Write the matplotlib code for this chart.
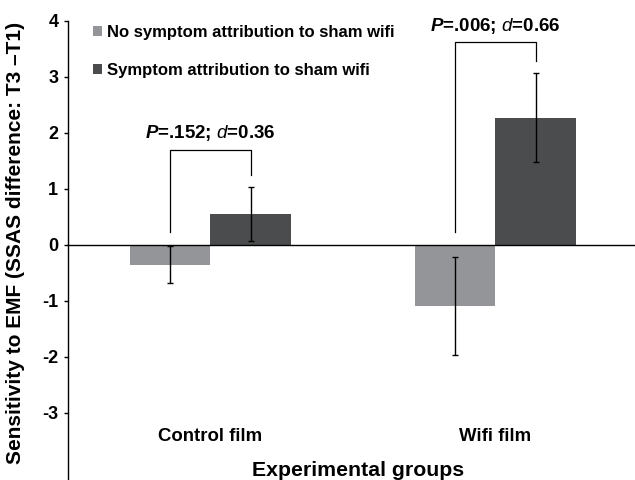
import numpy as np
import matplotlib
matplotlib.use("Agg")
import matplotlib.pyplot as plt

# data
groups = ["Control film", "Wifi film"]
series = ["No symptom attribution to sham wifi", "Symptom attribution to sham wifi"]
no_attr = [-0.36, -1.09]
no_attr_err = [0.33, 0.88]
attr = [0.55, 2.27]
attr_err = [0.48, 0.79]
stats = [("152", "0.36"), ("006", "0.66")]
bracket_top = [1.70, 3.62]

plt.rcParams["font.family"] = "Liberation Sans"
plt.rcParams["font.weight"] = "bold"
plt.rcParams["axes.unicode_minus"] = False
plt.rcParams["mathtext.fontset"] = "custom"
plt.rcParams["mathtext.it"] = "Liberation Sans:bold:italic"
plt.rcParams["mathtext.rm"] = "Liberation Sans:bold"
plt.rcParams["mathtext.sf"] = "Liberation Sans:style=italic:weight=normal"

grey = "#949598"
dark = "#4b4c4e"

fig = plt.figure(figsize=(6.35, 4.8), dpi=100)
ax = fig.add_axes([68/635, 0, 570/635, 459.2/480])

x = np.arange(len(groups)) + 0.5
w = 0.284
ax.bar(x - w/2, no_attr, w, color=grey, label=series[0],
       yerr=no_attr_err, error_kw=dict(ecolor="black", elinewidth=1, capsize=2, capthick=1))
ax.bar(x + w/2, attr, w, color=dark, label=series[1],
       yerr=attr_err, error_kw=dict(ecolor="black", elinewidth=1, capsize=2, capthick=1))

# significance brackets
for i in range(len(groups)):
    lo = max(0, no_attr[i] + no_attr_err[i]) + 0.22
    hi = attr[i] + attr_err[i] + 0.22
    top = bracket_top[i]
    ax.plot([x[i] - w/2, x[i] - w/2, x[i] + w/2, x[i] + w/2], [lo, top, top, hi],
            color="black", lw=0.9)
    p, d = stats[i]
    ax.text(x[i], top + 0.29, r"$P$=.%s; $\mathsf{d}$=%s" % (p, d),
            ha="center", va="center", fontsize=13.5, fontweight="bold")

ax.set_xlim(0, 2)
ax.set_ylim(-4.2, 4)
ax.set_yticks(range(-3, 5))
ax.tick_params(axis="y", labelsize=13, length=3, width=1, pad=4)
ax.tick_params(axis="x", length=0)
ax.set_xticks([])
for t in ax.get_yticklabels():
    t.set_fontweight("bold")
ax.spines["top"].set_visible(False)
ax.spines["right"].set_visible(False)
ax.spines["bottom"].set_position(("data", 0))
ax.spines["bottom"].set_linewidth(1)
ax.spines["left"].set_linewidth(1)
ax.set_facecolor("none")

for i, g in enumerate(groups):
    ax.text(x[i], -3.43, g, ha="center", va="center", fontsize=13.4, fontweight="bold")

fig.text(358/635, 1 - 470/480, "Experimental groups", ha="center", va="center",
         fontsize=15.3, fontweight="bold")
fig.text(16/635, 1 - 243/480, "Sensitivity to EMF (SSAS difference: T3 \u2013T1)",
         rotation=90, ha="center", va="center", fontsize=15, fontweight="bold")

leg = ax.legend(loc="upper left", bbox_to_anchor=(93/635, 1 - 25/480),
                bbox_transform=fig.transFigure, frameon=False, fontsize=12,
                handlelength=0.55, handleheight=0.55, handletextpad=0.3,
                labelspacing=1.38, borderaxespad=0, borderpad=0)
for t in leg.get_texts():
    t.set_fontweight("bold")

fig.savefig("out.png", dpi=100)
